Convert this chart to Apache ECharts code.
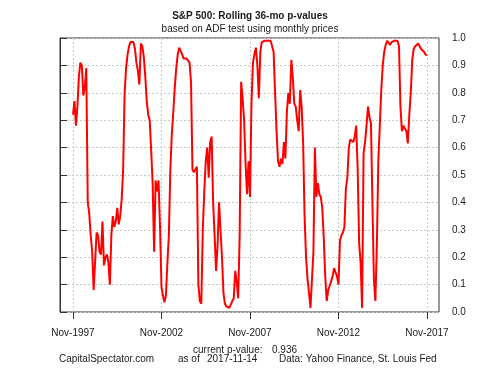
<!DOCTYPE html>
<html>
<head>
<meta charset="utf-8">
<script src="https://cdn.jsdelivr.net/npm/echarts@6/dist/echarts.min.js"></script>
<style>
  html, body { margin: 0; padding: 0; background: #fff; }
  #main { width: 500px; height: 375px; }
</style>
</head>
<body>
<div id="main"></div>
<script>
// rolling 36-month ADF p-values, monthly from Nov-1997 to Nov-2017
var pValues = [
  0.72, 0.77, 0.68, 0.75, 0.86, 0.91, 0.90, 0.79, 0.82, 0.89,
  0.40, 0.36, 0.28, 0.22, 0.08, 0.075, 0.29, 0.28, 0.22, 0.21,
  0.33, 0.17, 0.20, 0.21, 0.18, 0.10, 0.28, 0.35, 0.31, 0.33,
  0.38, 0.32, 0.35, 0.41, 0.52, 0.80, 0.89, 0.94, 0.97, 0.985,
  0.99, 0.985, 0.96, 0.91, 0.88, 0.83, 0.98, 0.97, 0.93, 0.86,
  0.77, 0.72, 0.70, 0.59, 0.47, 0.22, 0.48, 0.44, 0.48, 0.31,
  0.09, 0.06, 0.035, 0.06, 0.18, 0.28, 0.52, 0.65, 0.73, 0.82,
  0.89, 0.94, 0.965, 0.96, 0.94, 0.925, 0.92, 0.925, 0.93, 0.91,
  0.84, 0.52, 0.51, 0.52, 0.53, 0.10, 0.04, 0.03, 0.30, 0.44,
  0.55, 0.60, 0.49, 0.62, 0.64, 0.40, 0.28, 0.15, 0.24, 0.40,
  0.30, 0.20, 0.07, 0.03, 0.02, 0.02, 0.015, 0.02, 0.04, 0.05,
  0.15, 0.11, 0.05, 0.28, 0.84, 0.78, 0.70, 0.54, 0.43, 0.55,
  0.42, 0.76, 0.91, 0.94, 0.965, 0.90, 0.78, 0.95, 0.985, 0.99,
  0.99, 0.99, 0.99, 0.99, 0.99, 0.985, 0.95, 0.80, 0.66, 0.55,
  0.53, 0.56, 0.54, 0.62, 0.56, 0.73, 0.80, 0.76, 0.92, 0.86,
  0.76, 0.75, 0.70, 0.66, 0.81, 0.75, 0.62, 0.35, 0.20, 0.12,
  0.07, 0.015, 0.015, 0.22, 0.60, 0.42, 0.47, 0.43, 0.42, 0.38,
  0.27, 0.13, 0.04, 0.08, 0.095, 0.10, 0.13, 0.16, 0.145, 0.13,
  0.10, 0.26, 0.28, 0.29, 0.31, 0.45, 0.49, 0.60, 0.63, 0.63,
  0.62, 0.64, 0.68, 0.52, 0.25, 0.18, 0.015, 0.58, 0.62, 0.68,
  0.75, 0.71, 0.69, 0.40, 0.12, 0.04, 0.24, 0.55, 0.68, 0.81,
  0.90, 0.95, 0.975, 0.99, 0.99, 0.975, 0.985, 0.99, 0.99, 0.99,
  0.99, 0.97, 0.75, 0.66, 0.68, 0.68, 0.66, 0.615, 0.72, 0.80,
  0.92, 0.96, 0.97, 0.975, 0.98, 0.97, 0.96, 0.955, 0.95, 0.94,
  0.936
];
var tickLabels = ['Nov-1997', 'Nov-2002', 'Nov-2007', 'Nov-2012', 'Nov-2017'];
var monthNames = ['Jan','Feb','Mar','Apr','May','Jun','Jul','Aug','Sep','Oct','Nov','Dec'];
var startYear = 1997, startMonth = 10; // Nov
var asOf = '2017-11-14';

// month categories
var months = [];
for (var i = 0; i < pValues.length; i++) {
  var mm = (startMonth + i) % 12;
  var yy = startYear + Math.floor((startMonth + i) / 12);
  months.push(monthNames[mm] + '-' + yy);
}
var tickStep = 60; // 5 years

var font = 'Liberation Sans, Arial, sans-serif';
var txt = '#1a1a1a';
var gridCol = '#c8c8c8';

var chartDom = document.getElementById('main');
var myChart = echarts.init(chartDom);

var option = {
  animation: false,
  backgroundColor: '#fff',
  textStyle: { fontFamily: font },
  grid: [
    // outer box (R plot region) with the y axis on its right edge
    { left: 60, right: 61, top: 38, bottom: 63, show: true, borderColor: '#333', borderWidth: 1, backgroundColor: 'transparent' },
    // data region
    { left: 73, right: 73, top: 38, bottom: 63 }
  ],
  xAxis: [
    { gridIndex: 0, type: 'value', min: 0, max: 1, show: false },
    {
      gridIndex: 1,
      type: 'category',
      data: months,
      boundaryGap: false,
      axisLine: { show: false },
      axisTick: {
        show: true,
        length: 7,
        interval: function (idx) { return idx % tickStep === 0; },
        lineStyle: { color: '#333' }
      },
      axisLabel: {
        interval: function (idx) { return idx % tickStep === 0; },
        formatter: function (v, idx) { return tickLabels[idx / tickStep]; },
        margin: 16,
        fontSize: 10,
        color: txt,
        fontFamily: font
      },
      splitLine: {
        show: true,
        interval: function (idx) { return idx % tickStep === 0; },
        lineStyle: { color: gridCol, type: [2, 2], width: 1 }
      }
    }
  ],
  yAxis: [
    {
      gridIndex: 0,
      type: 'value',
      position: 'right',
      min: 0,
      max: 1,
      interval: 0.1,
      axisLine: { show: true, lineStyle: { color: '#333' } },
      axisTick: { show: true, length: 7, lineStyle: { color: '#333' } },
      axisLabel: {
        margin: 13,
        fontSize: 10,
        color: txt,
        fontFamily: font,
        formatter: function (v) { return v.toFixed(1); }
      },
      splitLine: { show: true, lineStyle: { color: gridCol, type: [2, 2], width: 1 } }
    },
    { gridIndex: 1, type: 'value', min: 0, max: 1, show: false }
  ],
  series: [
    {
      type: 'line',
      xAxisIndex: 1,
      yAxisIndex: 1,
      data: pValues,
      showSymbol: false,
      lineStyle: { color: '#ff0000', width: 2 },
      itemStyle: { color: '#ff0000' },
      z: 5
    }
  ],
  graphic: [
    { type: 'text', left: 'center', top: 11, style: { text: 'S&P 500: Rolling 36-mo p-values', font: 'bold 10px ' + font, fill: txt } },
    { type: 'text', left: 'center', top: 24, style: { text: 'based on ADF test using monthly prices', font: '10px ' + font, fill: txt } },
    { type: 'text', left: 193, top: 345, style: { text: 'current p-value:', font: '10px ' + font, fill: txt } },
    { type: 'text', left: 272, top: 345, style: { text: pValues[pValues.length - 1].toFixed(3), font: '10px ' + font, fill: txt } },
    { type: 'text', left: 59, top: 354, style: { text: 'CapitalSpectator.com', font: '10px ' + font, fill: txt } },
    { type: 'text', left: 178, top: 354, style: { text: 'as of', font: '10px ' + font, fill: txt } },
    { type: 'text', left: 207, top: 354, style: { text: asOf, font: '10px ' + font, fill: txt } },
    { type: 'text', left: 279, top: 354, style: { text: 'Data: Yahoo Finance, St. Louis Fed', font: '10px ' + font, fill: txt } }
  ]
};

myChart.setOption(option);
</script>
</body>
</html>
